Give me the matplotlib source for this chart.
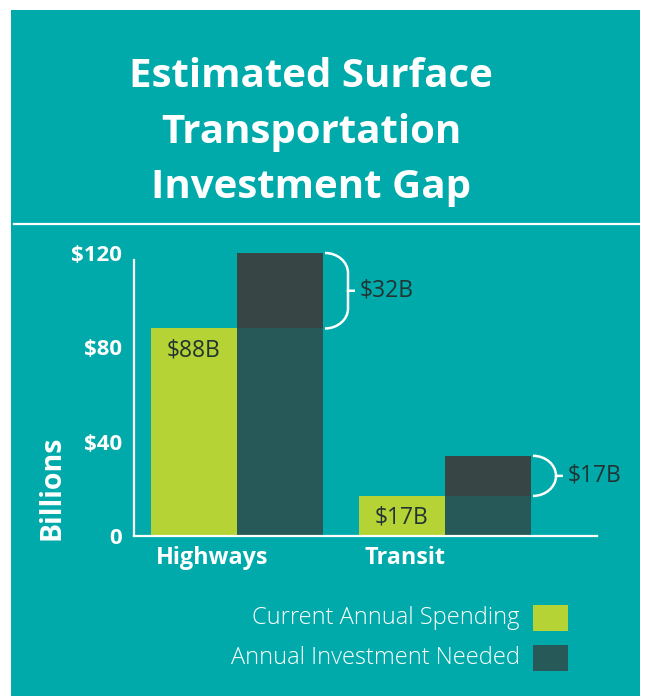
import matplotlib
matplotlib.use("Agg")
import matplotlib.pyplot as plt
from matplotlib.patches import Rectangle, PathPatch
from matplotlib.path import Path

# ---- data (billions of dollars) ----
categories = ["Highways", "Transit"]
current_spending = [88, 17]
investment_gap = [32, 17]
y_ticks = [0, 40, 80, 120]
y_tick_labels = ["0", "$40", "$80", "$120"]
legend_labels = ["Current Annual Spending", "Annual Investment Needed"]

# ---- styling ----
TEAL = "#00AAAA"
GREEN = "#B5D334"
NEEDED = "#265957"
GAP = "#374545"
DARK_TEXT = "#223333"
FONT = "Open Sans"

W, H = 646, 696
fig = plt.figure(figsize=(W / 100, H / 100), dpi=100)
fig.patch.set_facecolor("white")


def fx(x):
    return x / W


def fy(y):
    return 1 - y / H


# teal panel
fig.patches.append(Rectangle((fx(11), 0), fx(640) - fx(11), fy(10),
                             transform=fig.transFigure, facecolor=TEAL,
                             edgecolor="none", zorder=-10))

# title
title_lines = ["Estimated Surface", "Transportation", "Investment Gap"]
for line, base in zip(title_lines, [87, 143, 198]):
    fig.text(fx(311), fy(base), line, ha="center", va="baseline",
             color="white", fontsize=29, fontweight="bold", family=FONT)

# divider under the title
fig.add_artist(plt.Line2D([fx(14), fx(640)], [fy(224), fy(224)],
                          transform=fig.transFigure, color="white", lw=1.6))

# ---- chart axes ----
px_per_unit = 283 / 120
ymax = 130
ax = fig.add_axes([fx(134), fy(536), (597 - 134) / W, ymax * px_per_unit / H])
ax.patch.set_visible(False)
ax.set_ylim(0, ymax)

group_gap_px = 208
bar_w = 86 / group_gap_px
ax.set_xlim(-(237 - 134) / group_gap_px, (597 - 237) / group_gap_px)

for s in ["top", "right"]:
    ax.spines[s].set_visible(False)
for s in ["left", "bottom"]:
    ax.spines[s].set_color("white")
    ax.spines[s].set_linewidth(1.6)
ax.spines["left"].set_bounds(0, 117)

ax.set_yticks(y_ticks)
ax.set_yticklabels(y_tick_labels, fontdict=dict(family=FONT, weight="bold",
                                                 size=16, color="white"))
ax.tick_params(axis="y", length=0, pad=8.5)
ax.set_xticks([])

positions = list(range(len(categories)))
green_x = [p - bar_w / 2 for p in positions]
dark_x = [p + bar_w / 2 for p in positions]
needed_total = [c + g for c, g in zip(current_spending, investment_gap)]

ax.bar(green_x, current_spending, width=bar_w, color=GREEN, zorder=1)
ax.bar(dark_x, current_spending, width=bar_w, color=NEEDED, zorder=1)
ax.bar(dark_x, investment_gap, bottom=current_spending, width=bar_w,
       color=GAP, zorder=1)

# values inside the spending bars
for x, v in zip(green_x, current_spending):
    ax.annotate(f"${v}B", xy=(x, v), xytext=(0, -22), textcoords="offset pixels",
                ha="center", va="center", color=DARK_TEXT, fontsize=16.5,
                family=FONT)

# category labels
for x, name in zip(green_x, categories):
    ax.annotate(name, xy=(x - bar_w / 2, 0), xycoords=("data", "axes fraction"),
                xytext=(5, -22), textcoords="offset pixels", ha="left",
                va="center", color="white", fontsize=16.8, fontweight="bold",
                family=FONT)

# braces marking the investment gap
brace_w = 23 / group_gap_px
tick_len = 7 / group_gap_px
r = 20 / px_per_unit
k = 0.552
for x, lo, hi, gap in zip(dark_x, current_spending, needed_total, investment_gap):
    x0 = x + bar_w / 2 + 2 / group_gap_px
    xr = x0 + brace_w
    mid = (lo + hi) / 2
    rr = min(r, (hi - lo) / 2)
    verts = [
        (x0, hi), (x0 + k * brace_w, hi), (xr, hi - rr + k * rr), (xr, hi - rr),
        (xr, mid),
        (xr + tick_len, mid),
        (xr, mid),
        (xr, lo + rr),
        (xr, lo + rr - k * rr), (x0 + k * brace_w, lo), (x0, lo),
    ]
    codes = [Path.MOVETO, Path.CURVE4, Path.CURVE4, Path.CURVE4,
             Path.LINETO, Path.LINETO, Path.MOVETO, Path.LINETO,
             Path.CURVE4, Path.CURVE4, Path.CURVE4]
    ax.add_patch(PathPatch(Path(verts, codes), facecolor="none",
                           edgecolor="white", lw=1.8, clip_on=False,
                           capstyle="butt"))
    ax.text(xr + tick_len + 5 / group_gap_px, mid, f"${gap}B", ha="left",
            va="center", color=DARK_TEXT, fontsize=16.5, family=FONT)

# y-axis title
fig.text(fx(52), fy(488), "Billions", rotation=90, ha="center", va="center",
         color="white", fontsize=20.5, fontweight="bold", family=FONT)

# legend
for label, color, y_center in zip(legend_labels, [GREEN, NEEDED], [618, 658]):
    fig.text(fx(520), fy(y_center), label, ha="right", va="center",
             color="white", fontsize=17, fontweight="light", family=FONT)
    fig.patches.append(Rectangle((fx(533), fy(y_center + 13)),
                                 (568 - 533) / W, 26 / H,
                                 transform=fig.transFigure, facecolor=color,
                                 edgecolor="none"))

fig.savefig("out.png", dpi=100, facecolor=fig.get_facecolor())
